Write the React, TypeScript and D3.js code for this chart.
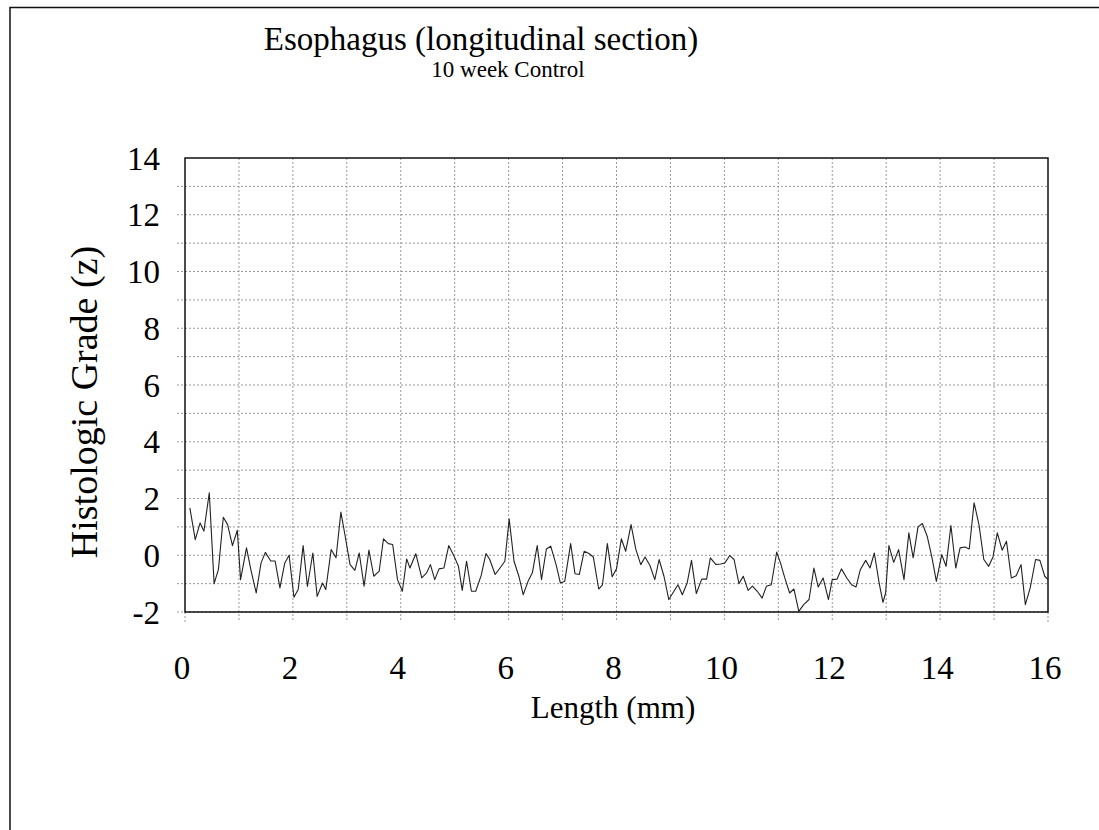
import React from 'react'
import * as d3 from 'd3'

// length along the section (mm) and histologic grade (z)
const lengths = [
  0.09, 0.19, 0.28, 0.35, 0.45, 0.54, 0.62, 0.71, 0.79, 0.88, 0.97, 1.03, 1.14, 1.22, 1.32, 1.41, 1.49, 1.59, 1.67, 1.76,
  1.85, 1.93, 2.02, 2.1, 2.19, 2.27, 2.37, 2.45,
  2.55, 2.61, 2.71, 2.8, 2.89, 2.97, 3.06, 3.15, 3.23, 3.32, 3.41, 3.5, 3.6, 3.68, 3.77, 3.85, 3.94, 4.03, 4.11, 4.17,
  4.28, 4.39, 4.48, 4.55, 4.63, 4.71, 4.8, 4.89, 4.99, 5.07,
  5.14, 5.22, 5.31, 5.39, 5.49, 5.58, 5.65, 5.75, 5.84, 5.93, 6.01, 6.1, 6.19, 6.27, 6.36, 6.44, 6.53, 6.61, 6.7, 6.78,
  6.88, 6.96, 7.04, 7.15, 7.23, 7.31, 7.4, 7.49, 7.57, 7.67,
  7.74, 7.83, 7.92, 8.0, 8.09, 8.17, 8.27, 8.36, 8.45, 8.53, 8.62, 8.71, 8.79, 8.88, 8.97, 9.05, 9.14, 9.22, 9.31, 9.39,
  9.48, 9.58, 9.67, 9.74, 9.84, 9.93, 10.01, 10.1, 10.18, 10.27,
  10.35, 10.44, 10.52, 10.61, 10.7, 10.78, 10.87, 10.97, 11.04, 11.12, 11.21, 11.29, 11.38, 11.47, 11.57, 11.66, 11.74,
  11.83, 11.93, 12.0, 12.09, 12.17, 12.27, 12.36, 12.44, 12.52, 12.62, 12.7, 12.78, 12.87,
  12.94, 12.99, 13.05, 13.14, 13.23, 13.33, 13.42, 13.5, 13.59, 13.67, 13.76, 13.85, 13.93, 14.03, 14.11, 14.2, 14.29,
  14.37, 14.46, 14.54, 14.63, 14.72, 14.81, 14.9, 14.98, 15.06, 15.15, 15.23, 15.32, 15.41, 15.5, 15.58, 15.67, 15.77,
  15.85, 15.94, 16.0
]

const grades = [
  1.67, 0.55, 1.14, 0.85, 2.2, -1.0, -0.5, 1.34, 1.08, 0.34, 0.88, -0.86, 0.26, -0.5, -1.33, -0.27, 0.1, -0.2, -0.2, -1.15,
  -0.27, 0, -1.48, -1.2, 0.34, -1.1, 0.08, -1.45,
  -0.98, -1.21, 0.2, -0.09, 1.52, 0.67, -0.33, -0.53, 0.08, -1.09, 0.18, -0.74, -0.56, 0.58, 0.41, 0.38, -0.86, -1.27,
  -0.13, -0.45, 0.05, -0.8, -0.62, -0.33, -0.86, -0.48, -0.45, 0.34, -0.04, -0.39,
  -1.24, -0.21, -1.27, -1.27, -0.72, 0.06, -0.15, -0.68, -0.45, -0.21, 1.28, -0.21, -0.74, -1.39, -0.92, -0.62, 0.34,
  -0.86, 0.22, 0.32, -0.33, -0.98, -0.92, 0.41, -0.65, -0.68, 0.14, 0.06, -0.06, -1.19,
  -1.04, 0.41, -0.76, -0.48, 0.58, 0.14, 1.08, 0.2, -0.33, -0.06, -0.36, -0.86, -0.15, -0.74, -1.56, -1.31, -1.04, -1.39,
  -0.98, -0.18, -1.35, -0.84, -0.84, -0.09, -0.32, -0.31, -0.27, -0.01, -0.15, -1.0,
  -0.74, -1.24, -1.09, -1.27, -1.51, -1.09, -1.04, 0.11, -0.27, -0.8, -1.33, -1.19, -1.98, -1.74, -1.56, -0.45, -1.12,
  -0.8, -1.56, -0.86, -0.84, -0.48, -0.8, -1.04, -1.12, -0.51, -0.18, -0.45, 0.08, -0.98,
  -1.66, -1.33, 0.34, -0.25, 0.2, -0.86, 0.79, -0.09, 1.0, 1.12, 0.67, -0.09, -0.92, 0.02, -0.39, 1.05, -0.45, 0.26, 0.29,
  0.22, 1.85, 1.08, -0.15, -0.39, -0.06, 0.79, 0.18, 0.49, -0.8, -0.72, -0.33, -1.74, -1.15, -0.15, -0.18, -0.74, -0.86
]

const xTicks = [0, 2, 4, 6, 8, 10, 12, 14, 16]
const yTicks = [-2, 0, 2, 4, 6, 8, 10, 12, 14]

const title = 'Esophagus (longitudinal section)'
const subtitle = '10 week Control'
const xLabel = 'Length (mm)'
const yLabel = 'Histologic Grade (z)'

const W = 1099
const H = 830
const font = '"Liberation Serif", "Times New Roman", serif'

export default function App () {
  const x = d3.scaleLinear().domain([0, 16]).range([185, 1048])
  const y = d3.scaleLinear().domain([-2, 14]).range([612, 158])

  const points = lengths.map((l, i) => [l, grades[i]] as [number, number])
  const line = d3.line<[number, number]>()
    .x(d => x(d[0]))
    .y(d => y(d[1]))

  // grid every 1 unit, labels every 2
  const xGrid = d3.range(1, 16)
  const yGrid = d3.range(-2, 14)

  return (
    <svg width={W} height={H} style={{ position: 'absolute', left: 0, top: 0, background: '#fff' }}
      fontFamily={font}>
      {/* outer frame (only top / left edges visible) */}
      <path d={`M10,${H + 5} V7.5 H${W + 5}`} fill="none" stroke="#111" strokeWidth={1.5} />

      <text x={481} y={50} textAnchor="middle" fontSize={33}>{title}</text>
      <text x={508} y={77} textAnchor="middle" fontSize={23}>{subtitle}</text>

      {/* grid */}
      {yGrid.map(v => (
        <line key={'gy' + v} x1={177} x2={x(16)} y1={y(v)} y2={y(v)}
          stroke="#999" strokeWidth={1} strokeDasharray="2,2" />
      ))}
      {xGrid.map(v => (
        <line key={'gx' + v} x1={x(v)} x2={x(v)} y1={y(14)} y2={622}
          stroke="#999" strokeWidth={1} strokeDasharray="2,2" />
      ))}
      <line x1={x(0)} x2={x(0)} y1={y(-2)} y2={622} stroke="#999" strokeDasharray="2,2" />
      <line x1={x(16)} x2={x(16)} y1={y(-2)} y2={622} stroke="#999" strokeDasharray="2,2" />

      {/* plot frame */}
      <rect x={x(0)} y={y(14)} width={x(16) - x(0)} height={y(-2) - y(14)}
        fill="none" stroke="#111" strokeWidth={1.5} />

      <path d={line(points) || ''} fill="none" stroke="#222" strokeWidth={1.1} strokeLinejoin="round" />

      {yTicks.map(v => (
        <text key={'ty' + v} x={160} y={y(v)} dy="0.35em" textAnchor="end" fontSize={33}>{v}</text>
      ))}
      {xTicks.map(v => (
        <text key={'tx' + v} x={x(v) - 3} y={679} textAnchor="middle" fontSize={33}>{v}</text>
      ))}

      <text x={613} y={718} textAnchor="middle" fontSize={31}>{xLabel}</text>
      <text transform={`translate(97,402) rotate(-90)`} textAnchor="middle" fontSize={38}>{yLabel}</text>
    </svg>
  )
}
